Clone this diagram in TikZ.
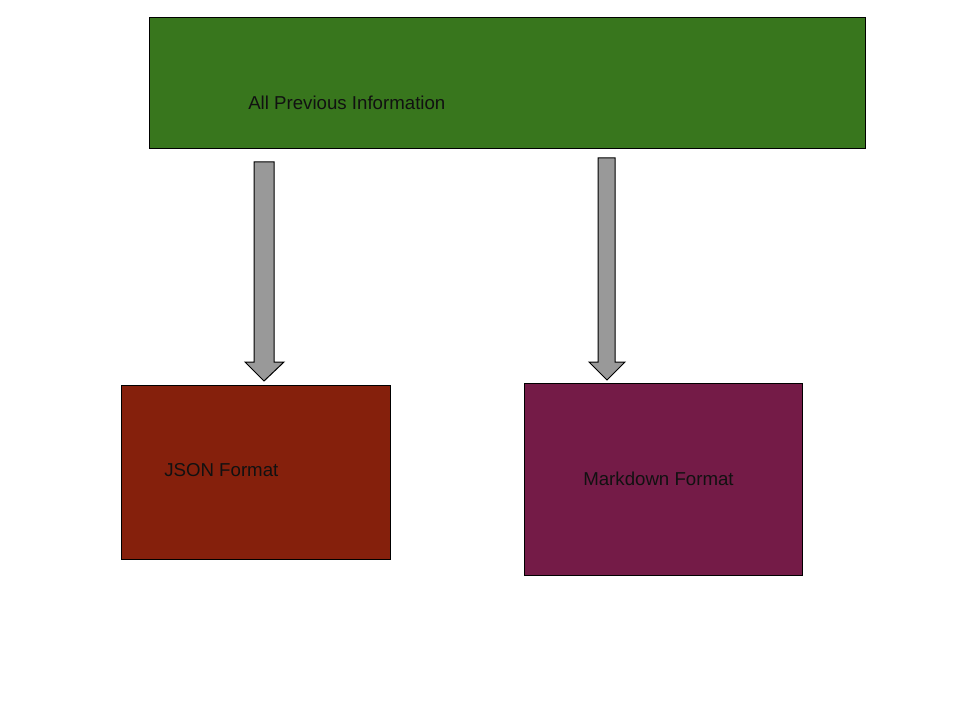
\documentclass[tikz,border=0pt]{standalone}
\usepackage{fontspec}
\setmainfont{Liberation Sans}
\definecolor{gdgreen}{HTML}{38761D}
\definecolor{gdred}{HTML}{85200C}
\definecolor{gdpurple}{HTML}{741B47}
\definecolor{gdgray}{HTML}{999999}
\definecolor{txt}{HTML}{111111}
\begin{document}
\begin{tikzpicture}[x=0.75pt,y=-0.75pt,
  box/.style={draw=black, line width=0.75pt, anchor=north west, inner sep=0pt},
  lbl/.style={anchor=west, inner sep=0pt, text=txt, font=\fontsize{14pt}{16pt}\selectfont},
  blockarrow/.style={draw=black, fill=gdgray, line width=0.75pt, line join=miter}]
\useasboundingbox (0,0) rectangle (960,720);
\fill[white] (0,0) rectangle (960,720);
\node[box, fill=gdgreen, minimum width=537pt, minimum height=98.25pt] (top) at (149,17) {};
\node[box, fill=gdred, minimum width=201.75pt, minimum height=130.5pt] (json) at (121,385) {};
\node[box, fill=gdpurple, minimum width=208.5pt, minimum height=144pt] (md) at (524,383) {};
\node[lbl] (toplbl) at (248,103) {All Previous Information};
\node[lbl] (jsonlbl) at (164,470) {JSON Format};
\node[lbl] (mdlbl) at (583,479) {Markdown Format};
% block arrows
\draw[blockarrow] (254,162) -- (274,162) -- (274,362) -- (284,362) -- (264,381) -- (245,362) -- (254,362) -- cycle;
\draw[blockarrow] (598,158) -- (615,158) -- (615,362) -- (625,362) -- (607,380) -- (589,362) -- (598,362) -- cycle;
\end{tikzpicture}
\end{document}
